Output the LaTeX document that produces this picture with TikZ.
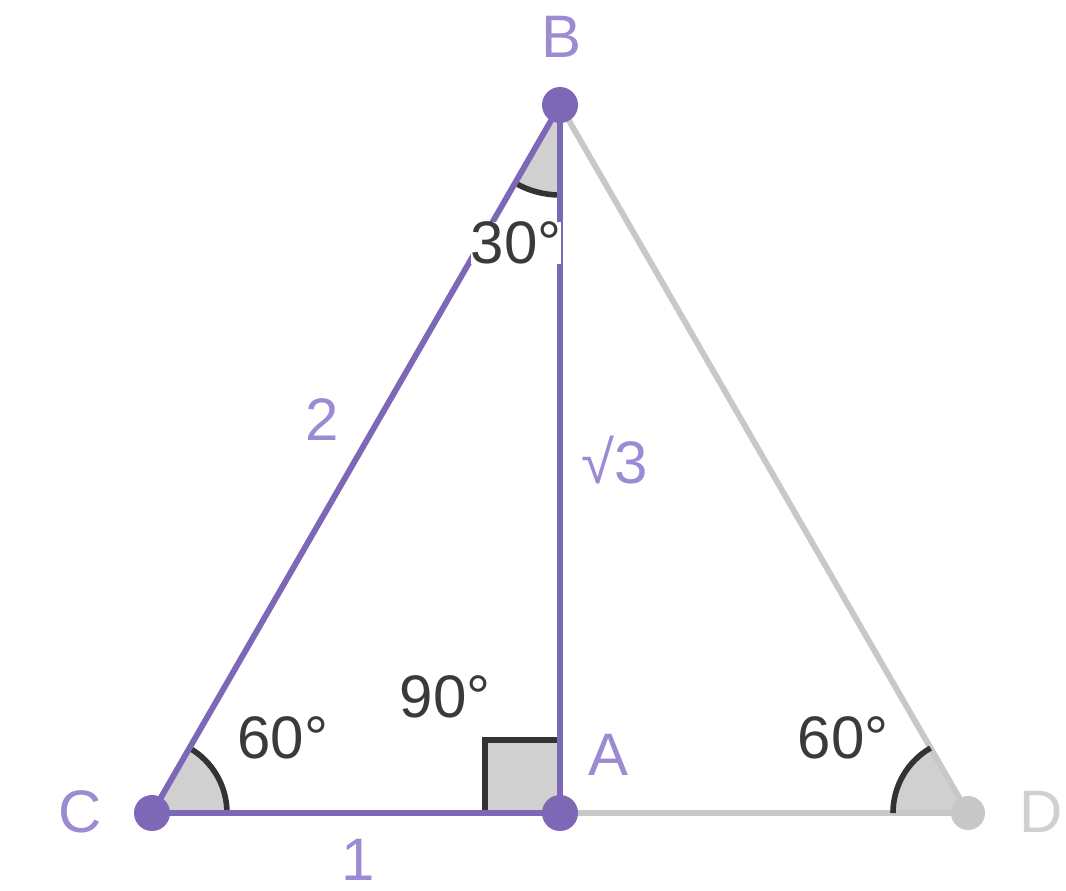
\documentclass[tikz,border=0pt]{standalone}
\usepackage{fontspec}
\setmainfont{Liberation Sans}
\definecolor{pline}{HTML}{7D68B8}
\definecolor{ptext}{HTML}{9C8BD2}
\definecolor{gline}{HTML}{C8C8C8}
\definecolor{gtext}{HTML}{D0D0D0}
\definecolor{afill}{HTML}{D0D0D0}
\definecolor{adraw}{HTML}{333333}
\definecolor{atext}{HTML}{3A3A3A}
\tikzset{
  seg/.style={line width=4.4pt,pline},
  gseg/.style={line width=4.4pt,gline},
  ptlabel/.style={font=\fontsize{45}{45}\selectfont,ptext},
  lenlabel/.style={font=\fontsize{45}{45}\selectfont,ptext},
  anglabel/.style={font=\fontsize{45}{45}\selectfont,atext},
  angfill/.style={fill=afill,draw=none},
  angarc/.style={line width=4.2pt,adraw},
}
\begin{document}
\begin{tikzpicture}[x=0.75pt,y=-0.75pt]
\useasboundingbox (0,0) rectangle (1066,890);
\coordinate (C) at (152,813);
\coordinate (A) at (560,813);
\coordinate (B) at (560,105);
\coordinate (D) at (968,813);
% angle fills
\fill[angfill] (C) -- ++(75,0) arc[start angle=0,end angle=-60,radius=75] -- cycle;
\fill[angfill] (D) -- ++(-75,0) arc[start angle=180,end angle=240,radius=75] -- cycle;
\fill[angfill] (B) -- ++(0,90) arc[start angle=90,end angle=120,radius=90] -- cycle;
\fill[angfill] (A) rectangle ++(-75,-73);
% gray lines
\draw[gseg] (A) -- (D);
\draw[gseg] (B) -- (D);
% right angle mark
\draw[angarc] (A) ++(-75,0) -- ++(0,-73) -- ++(75,0);
% angle arcs
\draw[angarc] (C) ++(75,0) arc[start angle=0,end angle=-60,radius=75];
\draw[angarc] (D) ++(-75,0) arc[start angle=180,end angle=240,radius=75];
\draw[angarc] (B) ++(0,90) arc[start angle=90,end angle=120,radius=90];
% purple lines
\draw[seg] (C) -- (A);
\draw[seg] (A) -- (B);
\draw[seg] (B) -- (C);
% points
\fill[gline] (D) circle[radius=17];
\fill[pline] (C) circle[radius=18];
\fill[pline] (A) circle[radius=18];
\fill[pline] (B) circle[radius=18];
% labels
\node[ptlabel] (lB) at (562,37) {B};
\node[ptlabel] (lC) at (80,812) {C};
\node[ptlabel] (lA) at (608,755) {A};
\node[ptlabel,gtext] (lD) at (1041,812) {D};
\node[lenlabel] (l2) at (322,420) {2};
\node[lenlabel] (l3) at (615,460) {√3};
\node[lenlabel] (l1) at (358,860) {1};
\node[anglabel,fill=white,inner sep=0pt] (a30) at (516,243) {30°};
\node[anglabel] (a60) at (283,738) {60°};
\node[anglabel] (a90) at (445,697) {90°};
\node[anglabel] (a60b) at (843,738) {60°};
\end{tikzpicture}
\end{document}
